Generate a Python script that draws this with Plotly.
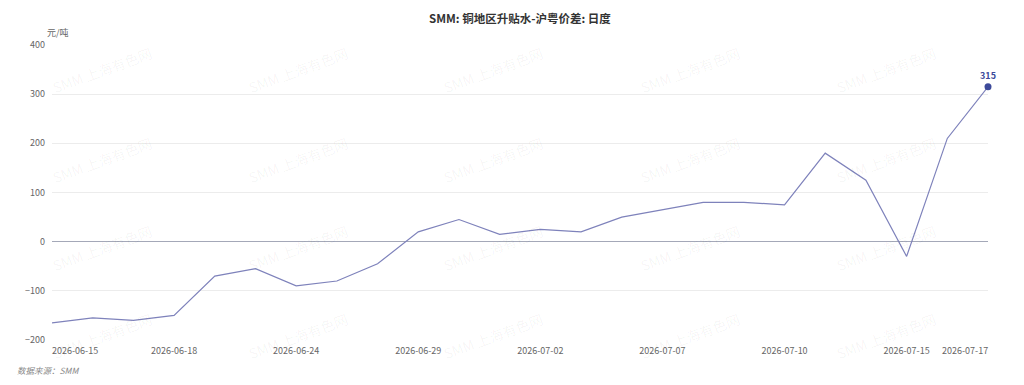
import plotly.graph_objects as go

dates = ["2026-06-15", "2026-06-16", "2026-06-17", "2026-06-18", "2026-06-22", "2026-06-23",
         "2026-06-24", "2026-06-25", "2026-06-26", "2026-06-29", "2026-06-30", "2026-07-01",
         "2026-07-02", "2026-07-03", "2026-07-06", "2026-07-07", "2026-07-08", "2026-07-09",
         "2026-07-10", "2026-07-13", "2026-07-14", "2026-07-15", "2026-07-16", "2026-07-17"]
values = [-165, -155, -160, -150, -70, -55, -90, -80, -45, 20, 45, 15,
          25, 20, 50, 65, 80, 80, 75, 180, 125, -30, 210, 315]
mid_ticks = ["2026-06-18", "2026-06-24", "2026-06-29", "2026-07-02", "2026-07-07", "2026-07-10", "2026-07-15"]
y_ticks = [-200, -100, 0, 100, 200, 300, 400]

title = "SMM: 铜地区升贴水-沪粤价差: 日度"
unit = "元/吨"
source = "数据来源：SMM"
watermark = "SMM 上海有色网"

FONT = "Noto Sans CJK SC"
W, H = 1024, 385
L, R, T, B = 52, 36, 45, 45
pw, ph = W - L - R, H - T - B

fig = go.Figure()
fig.add_trace(go.Scatter(
    x=dates, y=values, mode="lines",
    line=dict(color="#7e82bb", width=1.2),
    hoverinfo="x+y", showlegend=False, cliponaxis=False,
))
fig.add_trace(go.Scatter(
    x=[dates[-1]], y=[values[-1]], mode="markers+text",
    marker=dict(color="#3d4a9a", size=7),
    text=[str(values[-1])], textposition="top center",
    textfont=dict(family=FONT, size=9, color="#3d4a9a", weight="bold"),
    showlegend=False, cliponaxis=False,
))

def px(xp):
    return (xp - L) / pw

def py(yp):
    return 1 - (yp - T) / ph

annotations = []
# watermark tiles
for yy in [70, 160, 248, 336]:
    for xx in [102, 298, 493, 690, 886]:
        annotations.append(dict(
            x=px(xx), y=py(yy), xref="paper", yref="paper", text=watermark,
            showarrow=False, textangle=-20, xanchor="center", yanchor="middle",
            font=dict(family=FONT, size=14, color="rgba(0,0,0,0.045)"),
        ))

annotations += [
    dict(x=0.5, y=py(18), xref="paper", yref="paper", text=title, showarrow=False,
         font=dict(family=FONT, size=11.5, color="#333333", weight="bold"), xanchor="center", yanchor="middle"),
    dict(x=px(58), y=py(32), xref="paper", yref="paper", text=unit, showarrow=False,
         font=dict(family=FONT, size=9, color="#666666"), xanchor="center", yanchor="middle"),
    dict(x=px(15), y=py(370), xref="paper", yref="paper", text="<i>" + source + "</i>", showarrow=False,
         font=dict(family=FONT, size=8.5, color="#888888"), xanchor="left", yanchor="middle"),
    dict(x=dates[0], y=py(350), xref="x", yref="paper", text=dates[0], showarrow=False,
         font=dict(family=FONT, size=9, color="#666666"), xanchor="left", yanchor="middle", xshift=-2),
    dict(x=dates[-1], y=py(350), xref="x", yref="paper", text=dates[-1], showarrow=False,
         font=dict(family=FONT, size=9, color="#666666"), xanchor="right", yanchor="middle", xshift=2),
]

fig.update_layout(
    width=W, height=H,
    margin=dict(l=L, r=R, t=T, b=B),
    paper_bgcolor="white", plot_bgcolor="white",
    font=dict(family=FONT, size=9, color="#666666"),
    annotations=annotations,
    xaxis=dict(
        type="category", range=[0, len(dates) - 1],
        tickmode="array", tickvals=mid_ticks, ticktext=mid_ticks,
        showgrid=False, zeroline=False, showline=False, ticks="",
        tickfont=dict(family=FONT, size=9, color="#666666"),
        ticklabelstandoff=4,
    ),
    yaxis=dict(
        range=[-200, 400], tickvals=y_ticks,
        showgrid=True, gridcolor="#ececec", gridwidth=1,
        zeroline=True, zerolinecolor="#a4a8b8", zerolinewidth=1.2,
        showline=False, ticks="",
        tickfont=dict(family=FONT, size=9, color="#666666"),
        ticklabelstandoff=6,
    ),
)

fig.write_html("out.html")
